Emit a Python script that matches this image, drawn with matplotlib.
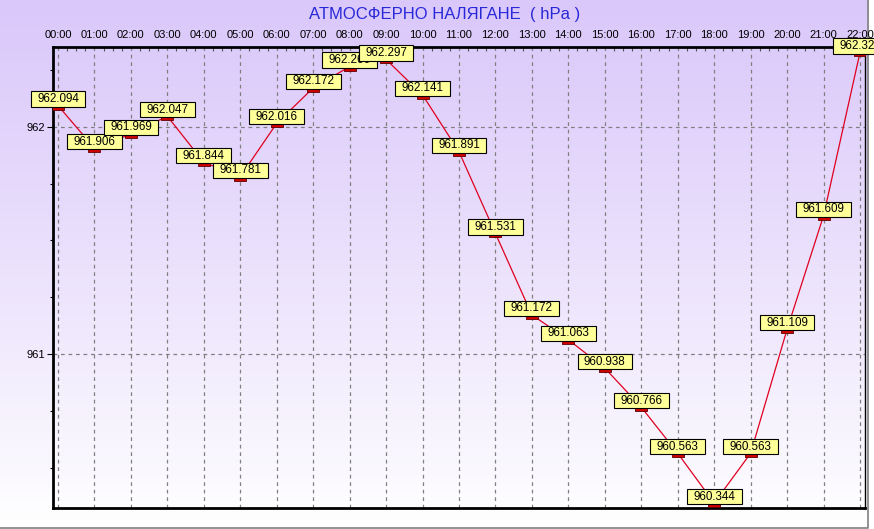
import numpy as np
import matplotlib
matplotlib.use("Agg")
import matplotlib.pyplot as plt
from matplotlib.path import Path
import matplotlib.transforms as mtransforms

hours = list(range(23))
tick_labels = ["%02d:00" % h for h in hours]
values = [962.094, 961.906, 961.969, 962.047, 961.844, 961.781, 962.016,
          962.172, 962.266, 962.297, 962.141, 961.891, 961.531, 961.172,
          961.063, 960.938, 960.766, 960.563, 960.344, 960.563, 961.109,
          961.609, 962.328]
title = "АТМОСФЕРНО НАЛЯГАНЕ  ( hPa )"

plt.rcParams['font.family'] = ['Liberation Sans', 'DejaVu Sans']

fig = plt.figure(figsize=(8.74, 5.29), dpi=100)

# background gradient
bg = fig.add_axes([0, 0, 1, 1], zorder=-10)
n = 256
top = np.array([218, 200, 250]) / 255.0
bot = np.array([255, 255, 255]) / 255.0
t = np.linspace(0, 1, n) ** 1.1
grad = top[None, :] * (1 - t[:, None]) + bot[None, :] * t[:, None]
grad = np.repeat(grad[:, None, :], 2, axis=1)
bg.imshow(grad, aspect='auto', extent=[0, 1, 0, 1], origin='upper')
bg.set_xlim(0, 1)
bg.set_ylim(0, 1)
bg.axis('off')
bg.plot([0, 868/874, 868/874], [1 - 527.5/529, 1 - 527.5/529, 1], color='#808080', lw=1.2)
bg.fill_between([868.5/874, 1], 0, 1, color='white')
bg.fill_between([0, 1], 0, 1 - 528/529, color='white')

ax = fig.add_axes([53/874, 1 - 508/529, (865 - 53)/874, (508 - 47)/529])
ax.patch.set_alpha(0)


def label_box(x0, y0, width, height, mutation_size):
    px = 0.55 * mutation_size
    py = 0.14 * mutation_size
    x0, y0 = x0 - px, y0 - py
    x1, y1 = x0 + width + 2 * px, y0 + height + 2 * py
    return Path([(x0, y0), (x1, y0), (x1, y1), (x0, y1), (x0, y0)], closed=True)


ax.plot(hours, values, color='#E00020', lw=0.9, zorder=3)
rect = Path([(-1, -0.42), (1, -0.42), (1, 0.42), (-1, 0.42), (-1, -0.42)],
            [Path.MOVETO, Path.LINETO, Path.LINETO, Path.LINETO, Path.CLOSEPOLY])
marker_shift = mtransforms.offset_copy(ax.transData, fig=fig, x=0, y=-2, units='dots')
ax.plot(hours, values, linestyle='none', marker=rect, markersize=8,
        markerfacecolor='#D00000', markeredgecolor='#600000', markeredgewidth=0.6,
        zorder=4, transform=marker_shift)

for i, (h, v) in enumerate(zip(hours, values)):
    ax.annotate("%.3f" % v, xy=(h, v), xytext=(0, 0.5), textcoords='offset pixels',
                ha='center', va='bottom', fontsize=8.4, color='black',
                bbox=dict(boxstyle=label_box, fc='#FFFF99', ec='black', lw=0.8),
                zorder=5 + i, annotation_clip=False)

ax.set_xlim(-5/36.45, 22 + 5/36.45)
ax.set_ylim(960.322, 962.352)

ax.xaxis.tick_top()
ax.set_xticks(hours)
ax.set_xticklabels(tick_labels, fontsize=8)
ax.set_xticks(np.arange(0, 22.01, 0.25), minor=True)
ax.tick_params(axis='x', which='major', direction='in', length=0, pad=4.8)
ax.tick_params(axis='x', which='minor', direction='in', length=3, width=0.8, color='#555555')

ax.set_yticks([961, 962])
ax.set_yticklabels(["961", "962"], fontsize=8)
ax.set_yticks([960.5, 960.75, 961.25, 961.5, 961.75, 962.25], minor=True)
ax.tick_params(axis='y', which='major', direction='out', length=4, width=0.8, pad=2)
ax.tick_params(axis='y', which='minor', direction='out', length=2, width=0.8)

ax.grid(True, which='major', color='#808080', linestyle=(0, (3, 3)), lw=0.9)

for s in ['left', 'top', 'bottom']:
    ax.spines[s].set_linewidth(2)
ax.spines['right'].set_linewidth(1)

fig.text(445/874, 1 - 15/529, title, ha='center', va='center', fontsize=12,
         color='#2828D8')

fig.savefig('out.png', dpi=100)
